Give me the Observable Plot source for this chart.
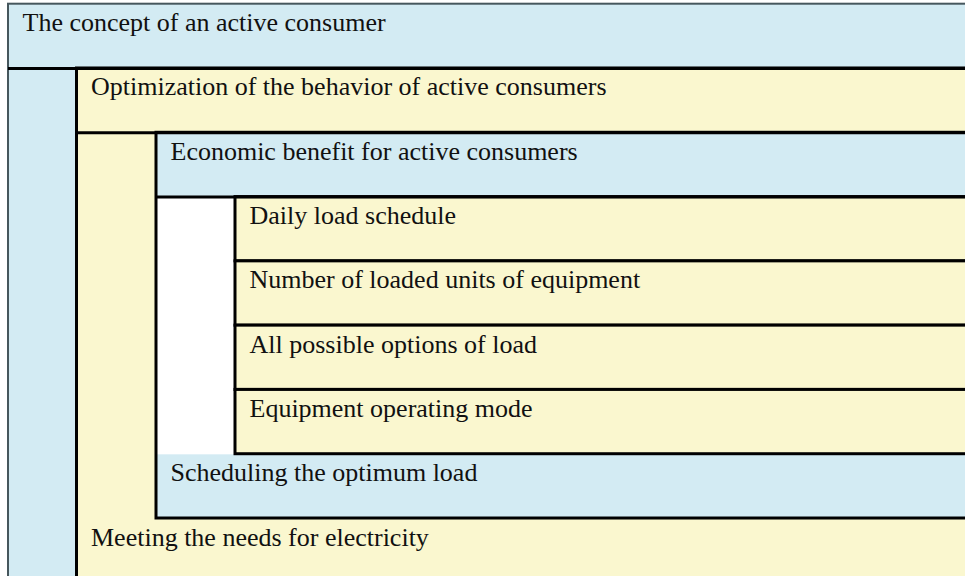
<!DOCTYPE html>
<html><head><meta charset="utf-8">
<script src="https://cdn.jsdelivr.net/npm/d3@7"></script>
<script src="https://cdn.jsdelivr.net/npm/@observablehq/plot@0.6"></script>
<style>
html,body{margin:0;padding:0;background:#fff;overflow:hidden}
svg text{font-family:"Liberation Serif","Times New Roman","DejaVu Serif",serif !important;}
</style>
</head><body><div id="chart"></div>
<script>
const labels = [
  "The concept of an active consumer",
  "Optimization of the behavior of active consumers",
  "Economic benefit for active consumers",
  "Daily load schedule",
  "Number of loaded units of equipment",
  "All possible options of load",
  "Equipment operating mode",
  "Scheduling the optimum load",
  "Meeting the needs for electricity"
];
const levels = [0, 1, 2, 3, 3, 3, 3, 2, 1];

const BLUE = "#d3ebf3", YELLOW = "#faf7cf";
const rows = labels.map((label, i) => ({label, level: levels[i], row: i}));
const nRows = rows.length;
const rightLevel = d3.max(levels) + 1;
const isContainer = (d, i) => i + 1 < nRows && levels[i + 1] > d.level;

// containers: rows followed by deeper rows; they span until a shallower row
const containers = rows.filter(isContainer).map(d => {
  let j = d.row + 1;
  while (j < nRows && levels[j] >= d.level) j++;
  return {...d, end: j};
});
// leaves get their own box when deeper than their innermost container
const boxed = rows.filter((d, i) => !isContainer(d, i)).map(d => {
  const parent = containers.filter(c => c.row < d.row && d.row < c.end).pop();
  return {...d, parentLevel: parent ? parent.level : 0};
}).filter(d => d.level > d.parentLevel);

const fillOf = d => d.level % 2 === 0 ? BLUE : YELLOW;

const chart = Plot.plot({
  width: 965,
  height: 576,
  margin: 0,
  style: {fontFamily: "'Liberation Serif', 'Times New Roman', serif"},
  x: {axis: null, type: "linear", domain: [0, 1, 2, 3, 4], range: [8, 76.5, 156, 235, 975]},
  y: {axis: null, type: "linear", domain: [0, 9], range: [3.7, 582.3]},
  marks: [
    // container fills
    Plot.rect(containers, {
      x1: "level", x2: () => rightLevel, y1: "row", y2: "end",
      fill: fillOf
    }),
    // white gutter beside boxed leaves
    Plot.rect(boxed, {
      x1: "parentLevel", x2: "level", y1: "row", y2: d => d.row + 1,
      fill: "#ffffff", insetTop: -0.6, insetBottom: -0.6
    }),
    // container outlines
    Plot.rect(containers, {
      x1: "level", x2: () => rightLevel, y1: "row", y2: "end",
      fill: "none",
      stroke: d => d.level === 0 ? "#46575d" : "#000",
      strokeWidth: d => d.level === 0 ? 2 : 3
    }),
    // leaf boxes
    Plot.rect(boxed, {
      x1: "level", x2: () => rightLevel, y1: "row", y2: d => d.row + 1,
      fill: fillOf, stroke: "#000", strokeWidth: 3
    }),
    // header separators
    Plot.ruleY(containers, {
      y: d => d.row + 1, x1: "level", x2: () => rightLevel,
      stroke: "#000", strokeWidth: 3
    }),
    Plot.text(rows, {
      x: "level", y: "row", text: "label",
      textAnchor: "start", lineAnchor: "bottom",
      dx: 14, dy: 27,
      fontSize: 26, fontFamily: "Liberation Serif", fill: "#111"
    })
  ]
});
document.getElementById("chart").append(chart);
</script>
</body></html>
